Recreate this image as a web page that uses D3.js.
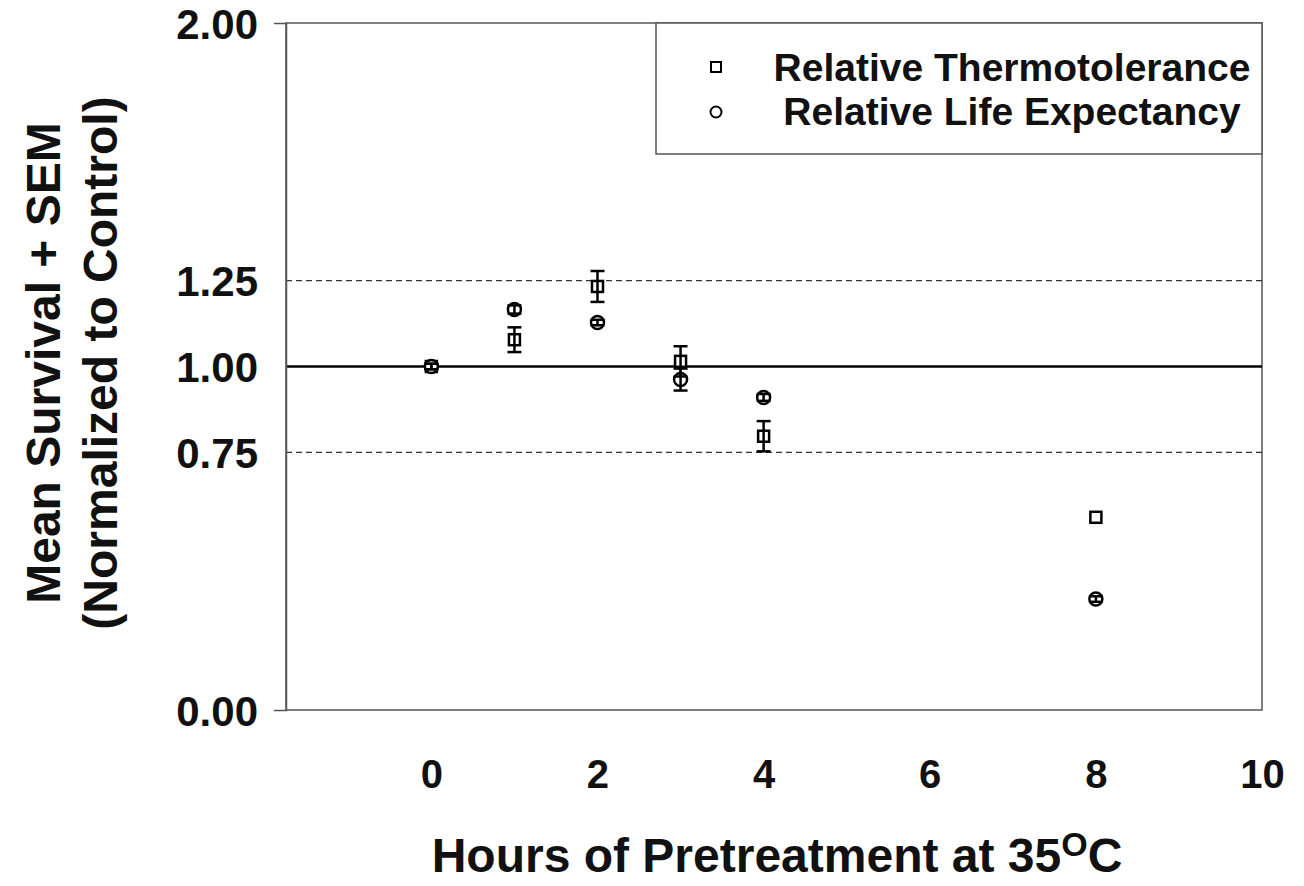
<!DOCTYPE html>
<html>
<head>
<meta charset="utf-8">
<script src="https://cdn.jsdelivr.net/npm/d3@7"></script>
<style>
  body { margin: 0; background: #fff; }
  svg text { font-family: "Liberation Sans", Arial, sans-serif; font-weight: bold; fill: #111; }
</style>
</head>
<body>
<div id="chart"></div>
<script>
// data
var hours = [0, 1, 2, 3, 4, 8];
var thermoMean = [1.00, 1.078, 1.233, 1.015, 0.797, 0.561];
var thermoSem = [0.008, 0.036, 0.045, 0.044, 0.044, 0];
var lifeMean = [1.00, 1.166, 1.128, 0.962, 0.910, 0.323];
var lifeSem = [0.008, 0.012, 0.008, 0.032, 0.010, 0.008];
var yTicks = [0, 0.75, 1, 1.25, 2];
var xTicks = [0, 2, 4, 6, 8, 10];
var refLines = [0.75, 1.25];
var seriesNames = ["Relative Thermotolerance", "Relative Life Expectancy"];

var W = 1304, H = 886;
var svg = d3.select("#chart").append("svg")
    .attr("width", W)
    .attr("height", H);

var pLeft = 286, pRight = 1262, pTop = 23, pBottom = 710;

var x = d3.scaleLinear().domain([-1.75, 10]).range([pLeft, pRight]);
var y = d3.scaleLinear().domain([0, 2]).range([pBottom, pTop]);

// plot frame
svg.append("rect")
    .attr("x", pLeft).attr("y", pTop)
    .attr("width", pRight - pLeft).attr("height", pBottom - pTop)
    .attr("fill", "none")
    .attr("stroke", "#555")
    .attr("stroke-width", 1.5);

// reference lines
svg.selectAll("line.ref")
    .data(refLines)
    .enter().append("line")
    .attr("class", "ref")
    .attr("x1", pLeft).attr("x2", pRight)
    .attr("y1", function (d) { return y(d); })
    .attr("y2", function (d) { return y(d); })
    .attr("stroke", "#333")
    .attr("stroke-width", 1.3)
    .attr("stroke-dasharray", "6,4");

svg.append("line")
    .attr("x1", pLeft).attr("x2", pRight)
    .attr("y1", y(1)).attr("y2", y(1))
    .attr("stroke", "#000")
    .attr("stroke-width", 2.5);

// Y axis: outer ticks only at 0 and 2
var yAxis = svg.append("g")
    .attr("transform", "translate(" + pLeft + ",0)")
    .call(d3.axisLeft(y).tickValues(yTicks).tickFormat(d3.format(".2f"))
        .tickSizeInner(0).tickSizeOuter(12).tickPadding(28));
yAxis.select(".domain").attr("stroke", "#555").attr("stroke-width", 1.5);
yAxis.selectAll(".tick line").remove();
yAxis.selectAll("text").style("font-size", "42px").attr("dy", "0.36em");

// X axis
var xAxis = svg.append("g")
    .attr("transform", "translate(0," + pBottom + ")")
    .call(d3.axisBottom(x).tickValues(xTicks).tickSize(0).tickPadding(50));
xAxis.select(".domain").remove();
xAxis.selectAll("text").style("font-size", "40px");

// error bars
function errorBars(mean, sem, cls) {
    var g = svg.append("g").attr("class", cls);
    var cap = 7;
    hours.forEach(function (h, i) {
        if (!sem[i]) return;
        var cx = x(h), y0 = y(mean[i] - sem[i]), y1 = y(mean[i] + sem[i]);
        g.append("line").attr("x1", cx).attr("x2", cx).attr("y1", y0).attr("y2", y1);
        g.append("line").attr("x1", cx - cap).attr("x2", cx + cap).attr("y1", y0).attr("y2", y0);
        g.append("line").attr("x1", cx - cap).attr("x2", cx + cap).attr("y1", y1).attr("y2", y1);
    });
    g.selectAll("line").attr("stroke", "#000").attr("stroke-width", 2.5);
}

// squares
svg.append("g").selectAll("rect")
    .data(hours)
    .enter().append("rect")
    .attr("x", function (d) { return x(d) - 5.5; })
    .attr("y", function (d, i) { return y(thermoMean[i]) - 5.5; })
    .attr("width", 11).attr("height", 11)
    .attr("fill", "#fff")
    .attr("stroke", "#000")
    .attr("stroke-width", 2.5);

// circles
svg.append("g").selectAll("circle")
    .data(hours)
    .enter().append("circle")
    .attr("cx", function (d) { return x(d); })
    .attr("cy", function (d, i) { return y(lifeMean[i]); })
    .attr("r", 6.5)
    .attr("fill", "#fff")
    .attr("stroke", "#000")
    .attr("stroke-width", 2.5);

errorBars(thermoMean, thermoSem, "err-thermo");
errorBars(lifeMean, lifeSem, "err-life");

// legend
var lg = svg.append("g");
lg.append("rect")
    .attr("x", 656).attr("y", pTop)
    .attr("width", pRight - 656).attr("height", 131)
    .attr("fill", "#fff")
    .attr("stroke", "#555")
    .attr("stroke-width", 1.5);
lg.append("rect")
    .attr("x", 711).attr("y", 62).attr("width", 10).attr("height", 10)
    .attr("fill", "#fff").attr("stroke", "#000").attr("stroke-width", 2);
lg.append("circle")
    .attr("cx", 716).attr("cy", 112).attr("r", 5.5)
    .attr("fill", "#fff").attr("stroke", "#000").attr("stroke-width", 2);
lg.selectAll("text")
    .data(seriesNames)
    .enter().append("text")
    .attr("x", 1012)
    .attr("y", function (d, i) { return 81 + i * 44; })
    .attr("text-anchor", "middle")
    .style("font-size", "39px")
    .text(function (d) { return d; });

// axis titles
svg.append("text")
    .attr("transform", "translate(60,363) rotate(-90)")
    .attr("text-anchor", "middle")
    .style("font-size", "48px")
    .text("Mean Survival + SEM");
svg.append("text")
    .attr("transform", "translate(117,363) rotate(-90)")
    .attr("text-anchor", "middle")
    .style("font-size", "48px")
    .text("(Normalized to Control)");

var xt = svg.append("text")
    .attr("x", 777).attr("y", 872)
    .attr("text-anchor", "middle")
    .style("font-size", "48px");
xt.append("tspan").text("Hours of Pretreatment at 35");
xt.append("tspan").attr("dy", -16).style("font-size", "34px").text("O");
xt.append("tspan").attr("dy", 16).text("C");
</script>
</body>
</html>
